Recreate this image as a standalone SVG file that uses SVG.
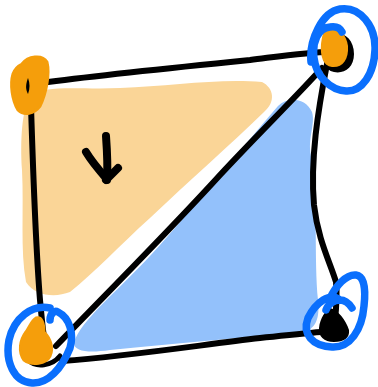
<svg xmlns="http://www.w3.org/2000/svg" width="378" height="387" viewBox="0 0 378 387">
<style>
.ink{fill:none;stroke:#000;stroke-width:6;stroke-linecap:round;stroke-linejoin:round}
.arr{fill:none;stroke:#000;stroke-width:8;stroke-linecap:round;stroke-linejoin:round}
.loop{fill:none;stroke:#0a6ffd;stroke-width:7.5;stroke-linecap:round;stroke-linejoin:round}
.dot{fill:#f59e0b;stroke:#f59e0b;stroke-width:3;stroke-linejoin:round}
</style>
<rect width="378" height="387" fill="#fff"/>
<!-- fills -->
<path d="M30,96 C45,84 80,90 120,88 C170,86 220,78 262,82 C274,88 276,102 264,112 C230,145 190,180 150,218 C120,245 95,272 70,292 C55,298 35,296 26,282 C20,250 24,210 22,170 C20,140 22,110 30,96 Z" fill="#fad597"/>
<path d="M278,106 C288,96 306,98 312,112 C316,125 306,140 312,160 C318,200 314,260 318,300 C320,318 316,330 302,332 C240,338 170,344 110,350 C90,353 74,352 74,343 C80,320 120,290 160,245 C200,200 240,150 278,106 Z" fill="#93c1fb"/>
<!-- edges -->
<g id="connectors">
<path class="ink" d="M48,82 C110,74 190,66 250,60 C290,55 310,52 330,52"/>
<path class="ink" d="M31,106 C33,170 36,250 40,300 C42,320 43,335 45,342"/>
<path class="ink" d="M62,361 C130,356 200,345 260,338 C300,334 318,332 332,331"/>
<path class="ink" d="M327,64 C318,110 310,160 314,205 C318,240 330,262 336,282 C338,300 335,318 334,330"/>
<path class="ink" d="M56,346 C110,290 170,230 220,175 C260,132 295,98 322,68"/>
</g>
<!-- arrow -->
<g id="arrow">
<path class="arr" d="M106,136 C107,150 108,165 107,180"/>
<path class="arr" d="M86,152 C92,162 99,170 106,178"/>
<path class="arr" d="M118,168 C114,172 110,176 106,180"/>
</g>
<!-- corners -->
<g id="corner-tl">
<path class="dot" d="M22,64 C28,56 42,54 47,62 C50,74 46,94 40,106 C34,114 24,116 18,110 C12,100 10,84 13,74 C15,68 18,66 22,64 Z"/>
<path d="M28,78 C26,83 25,89 28,94 C30,89 30,83 28,78 Z" fill="#000"/>
</g>
<g id="corner-tr">
<path d="M330,34 C342,30 354,38 354,54 C354,68 344,74 334,72 C324,70 322,60 324,48 C325,40 327,36 330,34 Z" fill="#000"/>
<path d="M326,30 C336,26 346,32 348,46 C349,60 342,68 332,67 C323,66 320,56 321,44 C322,36 323,32 326,30 Z" fill="#f59e0b"/>
<path class="loop" d="M311,62 C309,40 322,12 340,9 C360,6 376,26 375,50 C374,74 362,92 346,91 C330,90 316,76 314,58 C312,42 318,28 330,27 C336,26 340,28 342,32"/>
</g>
<g id="corner-bl">
<path d="M28,360 C36,368 52,366 60,356" stroke="#000" stroke-width="5" fill="none" stroke-linecap="round"/>
<path class="dot" d="M36,318 C42,316 44,324 44,332 C50,338 54,348 50,356 C46,364 32,366 24,360 C18,352 20,340 26,332 C30,326 32,320 36,318 Z"/>
<path class="loop" d="M50,308 C32,304 14,318 9,340 C5,362 14,382 32,383 C48,384 62,368 70,348 C74,334 70,318 58,312 C54,310 50,314 50,320"/>
</g>
<g id="corner-br">
<path d="M330,308 C338,310 346,320 349,330 C350,338 344,342 334,342 C324,342 318,336 319,328 C320,318 326,310 330,308 Z" fill="#000"/>
<path class="loop" d="M326,310 C328,304 334,300 340,300 C344,300 348,302 352,308 M340,300 C330,292 316,302 308,318 C302,334 312,346 332,347 C350,348 362,330 364,306 C366,288 364,276 356,275 C346,274 336,286 330,298"/>
</g>
</svg>
